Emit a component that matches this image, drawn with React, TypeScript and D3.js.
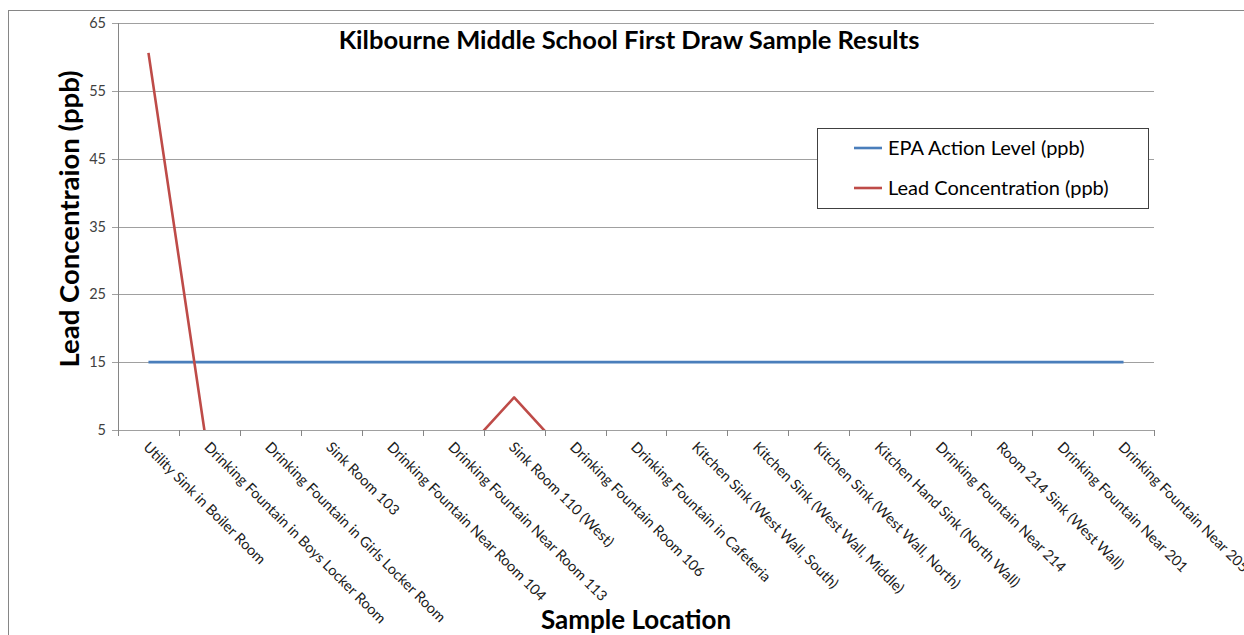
import React from "react";
import * as d3 from "d3";

const categories: string[] = [
  "Utility Sink in Boiler Room",
  "Drinking Fountain in Boys Locker Room",
  "Drinking Fountain in Girls Locker Room",
  "Sink Room 103",
  "Drinking Fountain Near Room 104",
  "Drinking Fountain Near Room 113",
  "Sink Room 110 (West)",
  "Drinking Fountain Room 106",
  "Drinking Fountain in Cafeteria",
  "Kitchen Sink (West Wall, South)",
  "Kitchen Sink (West Wall, Middle)",
  "Kitchen Sink (West Wall, North)",
  "Kitchen Hand Sink (North Wall)",
  "Drinking Fountain Near 214",
  "Room 214 Sink (West Wall)",
  "Drinking Fountain Near 201",
  "Drinking Fountain Near 205",
];

const epaActionLevel: number[] = [15, 15, 15, 15, 15, 15, 15, 15, 15, 15, 15, 15, 15, 15, 15, 15, 15];
const leadConcentration: number[] = [60.6, 0, 0, 0, 0, 0, 9.8, 0, 0, 0, 0, 0, 0, 0, 0, 0, 0];

const yTicks: number[] = [5, 15, 25, 35, 45, 55, 65];

const seriesNames = ["EPA Action Level (ppb)", "Lead Concentration (ppb)"];
const seriesColors = ["#4A7EBB", "#BE4B48"];

const W = 1244;
const H = 635;
const plot = { left: 118, right: 1154, top: 23, bottom: 430 };
const FONT = "Lato, 'Open Sans', sans-serif";

export default function App() {
  const x = d3
    .scaleBand<number>()
    .domain(categories.map((_, i) => i))
    .range([plot.left, plot.right])
    .paddingInner(0)
    .paddingOuter(0);
  const y = d3.scaleLinear().domain([5, 65]).range([plot.bottom, plot.top]);
  const cx = (i: number) => (x(i) as number) + x.bandwidth() / 2;

  const line = d3
    .line<number>()
    .x((_, i) => cx(i))
    .y((d) => y(d));

  const series = [epaActionLevel, leadConcentration];
  const boundaries = d3.range(categories.length + 1).map((i) => plot.left + i * x.bandwidth());

  return (
    <svg
      width={W}
      height={H}
      style={{ position: "absolute", left: 0, top: 0, background: "#fff" }}
      fontFamily={FONT}
    >
      <defs>
        <clipPath id="plotClip">
          <rect x={plot.left} y={plot.top} width={plot.right - plot.left} height={plot.bottom - plot.top} />
        </clipPath>
      </defs>
      {/* outer chart frame */}
      <rect x={8.5} y={10.5} width={W + 20} height={H + 20} fill="none" stroke="#868686" strokeWidth={1} />

      {/* gridlines */}
      {yTicks.map((t) => (
        <line key={"g" + t} x1={plot.left - 6} x2={plot.right} y1={Math.round(y(t)) + 0.5} y2={Math.round(y(t)) + 0.5} stroke="#A0A0A0" strokeWidth={1} />
      ))}
      {/* y axis */}
      <line x1={plot.left + 0.5} x2={plot.left + 0.5} y1={plot.top} y2={plot.bottom} stroke="#868686" />
      {yTicks.map((t) => (
        <text key={"yt" + t} x={106} y={y(t)} dy="0.35em" textAnchor="end" fontSize={14.5} fill="#404040">
          {t}
        </text>
      ))}
      {/* x ticks */}
      {boundaries.map((b, i) => (
        <line key={"xt" + i} x1={Math.round(b) + 0.5} x2={Math.round(b) + 0.5} y1={plot.bottom} y2={plot.bottom + 6} stroke="#868686" />
      ))}
      {categories.map((c, i) => (
        <text
          key={"xl" + i}
          transform={`translate(${cx(i) - 6},${plot.bottom + 18}) rotate(45)`}
          fontSize={14.5}
          fill="#202020"
        >
          {c}
        </text>
      ))}

      {/* series */}
      <g clipPath="url(#plotClip)">
        {series.map((s, k) => (
          <path key={"s" + k} d={line(s) ?? ""} fill="none" stroke={seriesColors[k]} strokeWidth={2.6} strokeLinejoin="round" />
        ))}
      </g>

      {/* title */}
      <text x={629} y={49} textAnchor="middle" fontSize={25.5} fontWeight="bold" fill="#000">
        Kilbourne Middle School First Draw Sample Results
      </text>
      {/* axis titles */}
      <text transform="translate(79,219) rotate(-90)" textAnchor="middle" fontSize={27.5} fontWeight="bold" fill="#000">
        Lead Concentraion (ppb)
      </text>
      <text x={636} y={629} textAnchor="middle" fontSize={26} fontWeight="bold" fill="#000">
        Sample Location
      </text>

      {/* legend */}
      <rect x={817.5} y={128.5} width={331} height={80} fill="#fff" stroke="#404040" strokeWidth={1} />
      {seriesNames.map((n, k) => (
        <g key={"lg" + k}>
          <line x1={854} x2={882} y1={148 + k * 40} y2={148 + k * 40} stroke={seriesColors[k]} strokeWidth={2.6} />
          <text x={888} y={148 + k * 40} dy="0.35em" fontSize={20} fill="#000">
            {n}
          </text>
        </g>
      ))}
    </svg>
  );
}
